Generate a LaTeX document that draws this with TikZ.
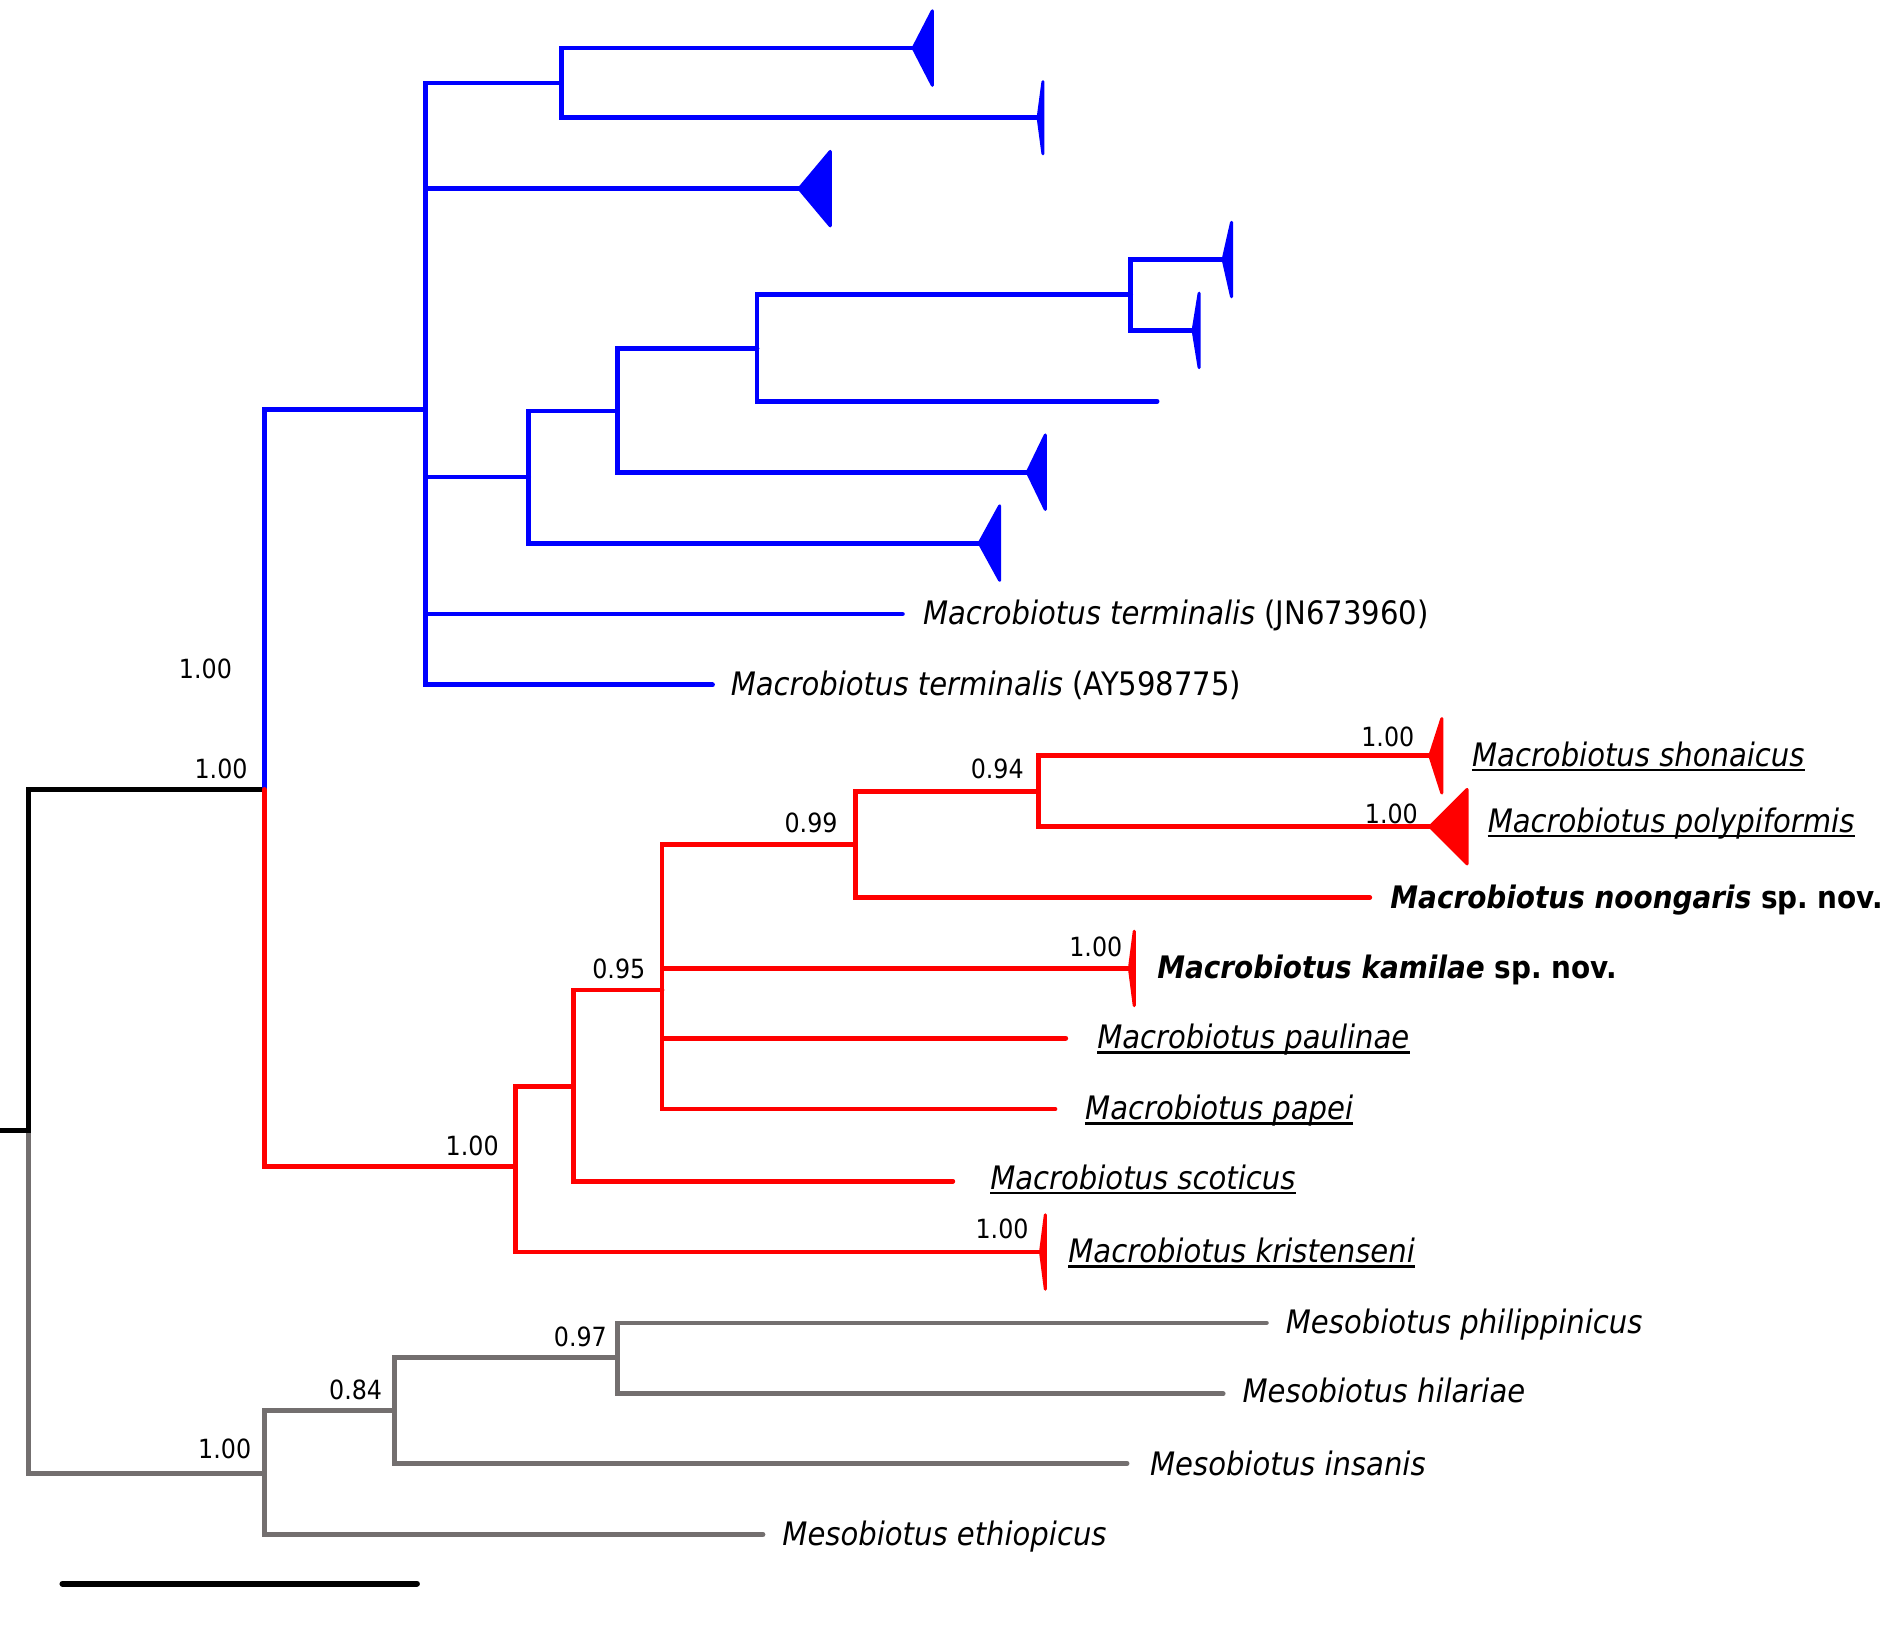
\documentclass[tikz,border=0pt]{standalone}
\usepackage{fontspec}
\setmainfont{DejaVu Sans Condensed}
\frenchspacing
\definecolor{cladeblue}{RGB}{0,0,255}
\definecolor{cladered}{RGB}{255,0,0}
\definecolor{outgrey}{RGB}{115,111,111}
\tikzset{
  branch/.style={line width=4pt, line cap=round},
  taxon/.style={font=\fontsize{26.9}{30}\selectfont\itshape, anchor=base west, inner sep=0pt},
  newsp/.style={taxon, font=\fontsize{25.8}{30}\selectfont\bfseries\itshape},
  support/.style={font=\fontsize{22}{26}\selectfont, inner sep=0pt},
  ul/.style={line width=1.8pt}
}
% collapsed clade: colour, tip, depth, half height
\newcommand\collapsed[4]{%
  \filldraw[#1, line width=2.5pt, line join=round] (#2) -- ++(#3,-#4) -- ++(0,2*#4) -- cycle;}
\newcommand\underl[1]{\draw[ul] ([yshift=-3pt]#1.base west) -- ([yshift=-3pt]#1.base east);}
\begin{document}
\begin{tikzpicture}[x=1pt,y=-1pt]
  \useasboundingbox (0,0) rectangle (1568,1365);
  % root and main splits
  \coordinate (stub) at (0,941);
  \coordinate (root) at (24,941);
  \coordinate (macro) at (220,657);
  \coordinate (meso) at (220,1226);
  \draw[branch,outgrey] (root) |- (meso);
  \draw[branch] (stub) -- (root) |- (macro);
  % blue clade
  \coordinate (blue) at (354,341);
  \coordinate (b1) at (467,69);
  \coordinate (b1a) at (760,40);
  \coordinate (b1b) at (864,98);
  \coordinate (b2) at (665,157);
  \coordinate (b3) at (440,397);
  \coordinate (b3a) at (514,342);
  \coordinate (b3aa) at (630,290);
  \coordinate (b3aaa) at (941,245);
  \coordinate (b3aaa1) at (1018,216);
  \coordinate (b3aaa2) at (993,275);
  \coordinate (b3aab) at (963,334);
  \coordinate (b3ab) at (855,393);
  \coordinate (b3b) at (815,452);
  \coordinate (jn) at (751,511);
  \coordinate (ay) at (593,570);
  \foreach \p/\c in {macro/blue, blue/b1, b1/b1a, b1/b1b, blue/b2, blue/b3,
      b3/b3a, b3a/b3aa, b3aa/b3aaa, b3aaa/b3aaa1, b3aaa/b3aaa2, b3aa/b3aab,
      b3a/b3ab, b3/b3b, blue/jn, blue/ay}
    \draw[branch,cladeblue] (\p) |- (\c);
  \collapsed{cladeblue}{b1a}{16}{31}
  \collapsed{cladeblue}{b1b}{4}{30}
  \collapsed{cladeblue}{b2}{26}{31}
  \collapsed{cladeblue}{b3aaa1}{7}{31}
  \collapsed{cladeblue}{b3aaa2}{5}{31}
  \collapsed{cladeblue}{b3ab}{15}{31}
  \collapsed{cladeblue}{b3b}{17}{31}
  % red clade
  \coordinate (red) at (429,971);
  \coordinate (r1) at (477,904);
  \coordinate (r1a) at (551,824);
  \coordinate (r1aa) at (712,703);
  \coordinate (r1aaa) at (864,659);
  \coordinate (shon) at (1190,629);
  \coordinate (poly) at (1190,688);
  \coordinate (noon) at (1140,747);
  \coordinate (kami) at (940,806);
  \coordinate (paul) at (887,864);
  \coordinate (pape) at (878,923);
  \coordinate (scot) at (793,983);
  \coordinate (kris) at (866,1042);
  \foreach \p/\c in {macro/red, red/r1, r1/r1a, r1a/r1aa, r1aa/r1aaa,
      r1aaa/shon, r1aaa/poly, r1aa/noon, r1a/kami, r1a/paul, r1a/pape,
      r1/scot, red/kris}
    \draw[branch,cladered] (\p) |- (\c);
  \collapsed{cladered}{shon}{10}{31}
  \collapsed{cladered}{poly}{31}{31}
  \collapsed{cladered}{kami}{4}{31}
  \collapsed{cladered}{kris}{4}{31}
  % outgroup
  \coordinate (m1) at (328,1174);
  \coordinate (m1a) at (514,1130);
  \coordinate (phil) at (1054,1101);
  \coordinate (hila) at (1018,1160);
  \coordinate (insa) at (938,1218);
  \coordinate (ethi) at (635,1277);
  \foreach \p/\c in {meso/m1, m1/m1a, m1a/phil, m1a/hila, m1/insa, meso/ethi}
    \draw[branch,outgrey] (\p) |- (\c);
  % taxon names
  \node[taxon] (jnlab) at ([xshift=17pt,yshift=-9pt]jn) {Macrobiotus terminalis {\upshape(JN673960)}};
  \node[taxon] (aylab) at ([xshift=15pt,yshift=-9pt]ay) {Macrobiotus terminalis {\upshape(AY598775)}};
  \node[taxon] (shonlab) at (1225,638) {Macrobiotus shonaicus};
  \node[taxon] (polylab) at (1238,693) {Macrobiotus polypiformis};
  \node[newsp] (noonlab) at ([xshift=17pt,yshift=-9pt]noon) {Macrobiotus noongaris {\upshape sp. nov.}};
  \node[newsp] (kamilab) at (963,814) {Macrobiotus kamilae {\upshape sp. nov.}};
  \node[taxon] (paullab) at ([xshift=26pt,yshift=-9pt]paul) {Macrobiotus paulinae};
  \node[taxon] (papelab) at ([xshift=25pt,yshift=-9pt]pape) {Macrobiotus papei};
  \node[taxon] (scotlab) at ([xshift=31pt,yshift=-7pt]scot) {Macrobiotus scoticus};
  \node[taxon] (krislab) at (889,1051) {Macrobiotus kristenseni};
  \node[taxon] (phillab) at ([xshift=16pt,yshift=-9pt]phil) {Mesobiotus philippinicus};
  \node[taxon] (hilalab) at ([xshift=16pt,yshift=-7pt]hila) {Mesobiotus hilariae};
  \node[taxon] (insalab) at ([xshift=19pt,yshift=-10pt]insa) {Mesobiotus insanis};
  \node[taxon] (ethilab) at ([xshift=16pt,yshift=-9pt]ethi) {Mesobiotus ethiopicus};
  \underl{shonlab}
  \underl{polylab}
  \underl{paullab}
  \underl{papelab}
  \underl{scotlab}
  \underl{krislab}
  % posterior probabilities
  \node[support] (pp1) at (171,557) {1.00};
  \node[support] (pp2) at (184,640) {1.00};
  \node[support] (pp3) at (1155,613) {1.00};
  \node[support] (pp4) at (830,640) {0.94};
  \node[support] (pp5) at (1158,677) {1.00};
  \node[support] (pp6) at (675,685) {0.99};
  \node[support] (pp7) at (912,788) {1.00};
  \node[support] (pp8) at (515,806) {0.95};
  \node[support] (pp9) at (393,954) {1.00};
  \node[support] (pp10) at (834,1023) {1.00};
  \node[support] (pp11) at (483,1113) {0.97};
  \node[support] (pp12) at (296,1157) {0.84};
  \node[support] (pp13) at (187,1206) {1.00};
  % scale bar
  \coordinate (sb1) at (52,1318);
  \coordinate (sb2) at (347,1318);
  \draw[line width=5pt, line cap=round] (sb1) -- (sb2);
\end{tikzpicture}
\end{document}
